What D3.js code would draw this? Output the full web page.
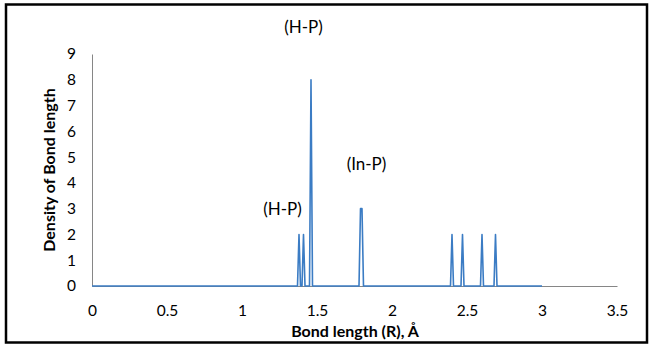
<!DOCTYPE html>
<meta charset="utf-8">
<style>
  body { margin: 0; background: #fff; }
  text { font-family: Lato, "Open Sans", sans-serif; fill: #000; }
  .axis path { stroke: #868686; stroke-width: 1px; }
  .axis text { font-size: 15.5px; }
  .title { font-size: 16px; font-weight: bold; }
  .note { font-size: 17px; }
</style>
<svg width="653" height="349"></svg>
<script src="https://d3js.org/d3.v7.min.js"></script>
<script>
  // bond length (Å) and density
  var bondLength = [0, 1.37, 1.38, 1.39, 1.40, 1.41, 1.42, 1.45, 1.46, 1.47,
    1.78, 1.79, 1.80, 1.81, 2.39, 2.40, 2.41, 2.46, 2.47, 2.48,
    2.59, 2.60, 2.61, 2.68, 2.69, 2.70, 3.0];
  var density = [0, 0, 2, 0, 0, 2, 0, 0, 8, 0,
    0, 3, 3, 0, 0, 2, 0, 0, 2, 0,
    0, 2, 0, 0, 2, 0, 0];
  var xTicks = [0, 0.5, 1, 1.5, 2, 2.5, 3, 3.5];
  var yTicks = [0, 1, 2, 3, 4, 5, 6, 7, 8, 9];
  var notes = [
    { label: "(H-P)", x: 1.41, y: 9.8 },
    { label: "(In-P)", x: 1.83, y: 4.5 },
    { label: "(H-P)", x: 1.27, y: 2.75 }
  ];

  var svg = d3.select("svg");

  svg.append("rect")
    .attr("x", 6).attr("y", 4.5)
    .attr("width", 641).attr("height", 338)
    .attr("fill", "none")
    .attr("stroke", "#000")
    .attr("stroke-width", 2.5);

  var x = d3.scaleLinear().domain([0, 3.5]).range([92, 617]);
  var y = d3.scaleLinear().domain([0, 9]).range([286, 54]);

  svg.append("g")
    .attr("class", "axis")
    .attr("transform", "translate(0,286)")
    .call(d3.axisBottom(x).tickValues(xTicks).tickSize(0).tickPadding(19)
      .tickFormat(function(d) { return d; }))
    .call(function(g) { g.select(".domain").attr("stroke", "#868686"); });

  svg.append("g")
    .attr("class", "axis")
    .attr("transform", "translate(92,0)")
    .call(d3.axisLeft(y).tickValues(yTicks).tickSize(0).tickPadding(16))
    .call(function(g) { g.select(".domain").attr("stroke", "#868686"); });

  svg.selectAll(".axis text").attr("fill", "#000");

  var points = bondLength.map(function(d, i) { return [d, density[i]]; });

  var line = d3.line()
    .x(function(d) { return x(d[0]); })
    .y(function(d) { return y(d[1]); });

  svg.append("path")
    .datum(points)
    .attr("d", line)
    .attr("fill", "none")
    .attr("stroke", "#3b7cc4")
    .attr("stroke-width", 1.6)
    .attr("stroke-linejoin", "round");

  svg.selectAll(".note")
    .data(notes)
    .enter().append("text")
    .attr("class", "note")
    .attr("x", function(d) { return x(d.x); })
    .attr("y", function(d) { return y(d.y); })
    .attr("text-anchor", "middle")
    .text(function(d) { return d.label; });

  svg.append("text")
    .attr("class", "title")
    .attr("x", 355).attr("y", 337)
    .attr("text-anchor", "middle")
    .text("Bond length (R), Å");

  svg.append("text")
    .attr("class", "title")
    .attr("transform", "translate(55,170) rotate(-90)")
    .attr("text-anchor", "middle")
    .text("Density of Bond length");
</script>
